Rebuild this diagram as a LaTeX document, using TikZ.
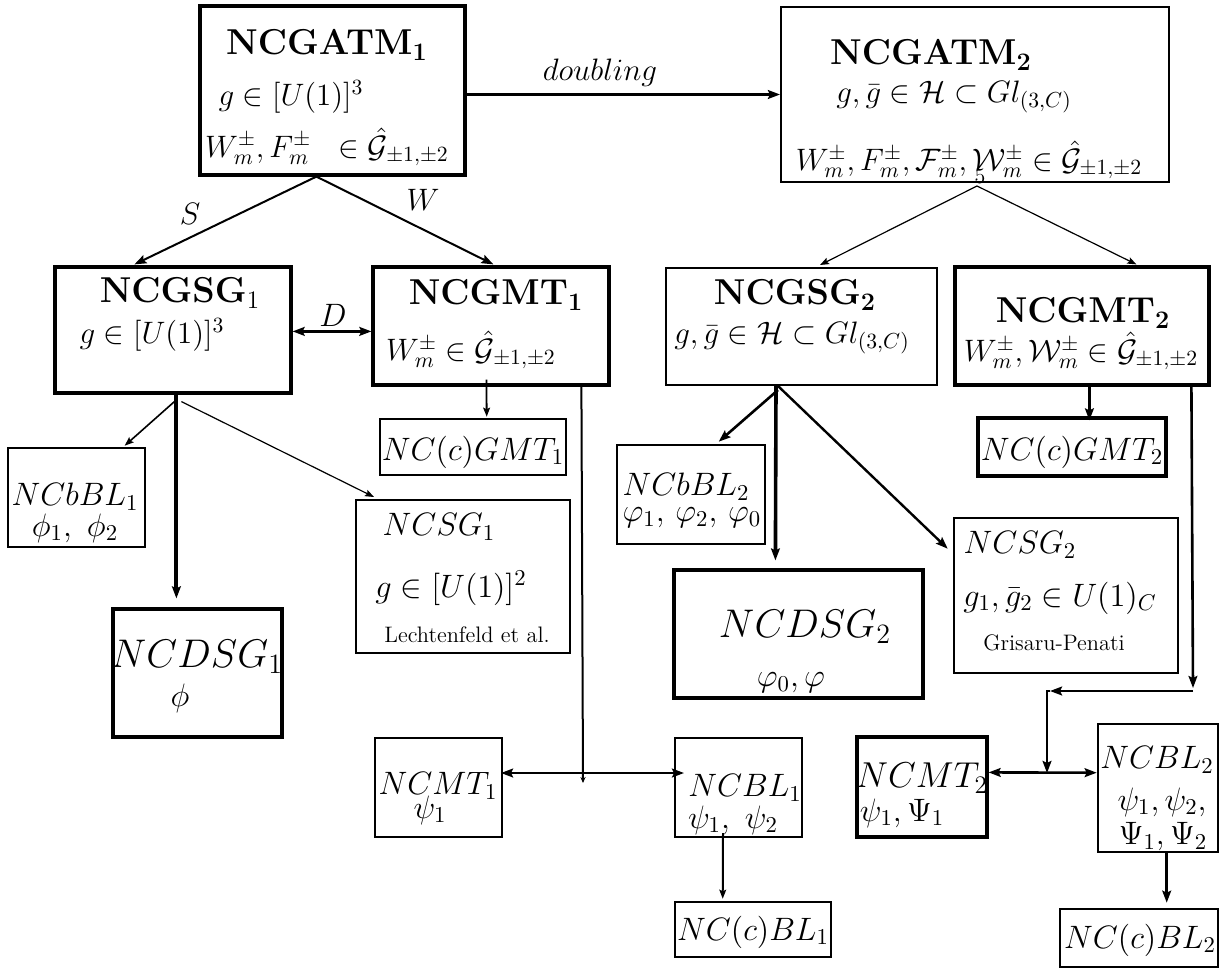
\RequirePackage{fix-cm}
\documentclass[tikz,border=0pt]{standalone}
\usetikzlibrary{arrows.meta,calc}
\newcommand{\myTitle}{\fontsize{18}{20}\selectfont}
\newcommand{\myMath}{\fontsize{15.5}{18}\selectfont}
\newcommand{\myMid}{\fontsize{16.2}{18}\selectfont}
\newcommand{\myBig}{\fontsize{20}{22}\selectfont}
\newcommand{\mySmall}{\fontsize{11.2}{13}\selectfont}
\begin{document}
\begin{tikzpicture}[x=0.5pt,y=-0.5pt,
  bxA/.style={draw, rectangle, inner sep=0pt, line width=1.6pt},
  bxB/.style={draw, rectangle, inner sep=0pt, line width=1.3pt},
  bxC/.style={draw, rectangle, inner sep=0pt, line width=1.0pt},
  t/.style={inner sep=0pt},
  arS/.style={-{Stealth[length=4.5pt,width=3.4pt,inset=0.8pt]}},
  arM/.style={-{Stealth[length=6pt,width=4.4pt,inset=1pt]}},
  arB/.style={{Stealth[length=6pt,width=4.4pt,inset=1pt]}-{Stealth[length=6pt,width=4.4pt,inset=1pt]}}
]
\useasboundingbox (0,0) rectangle (1225,969);

% ---------- boxes ----------
\node[bxA, minimum width=132.5pt, minimum height=84.5pt] (atmA) at (332.5,90.5) {};
\node[bxC, minimum width=194pt, minimum height=87.5pt] (atmB) at (975,94.5) {};
\node[bxA, minimum width=118pt, minimum height=63pt] (sgA) at (173,330) {};
\node[bxA, minimum width=118pt, minimum height=59pt] (mtA) at (491,326) {};
\node[bxC, minimum width=135.5pt, minimum height=58.5pt] (sgB) at (801.5,326.5) {};
\node[bxA, minimum width=127pt, minimum height=59pt] (mtB) at (1082,326) {};
\node[bxB, minimum width=68.5pt, minimum height=49.5pt] (bblA) at (76.5,497.5) {};
\node[bxB, minimum width=93pt, minimum height=28pt] (cgmtA) at (473,447) {};
\node[bxC, minimum width=107pt, minimum height=76.5pt] (ncsgA) at (463,576.5) {};
\node[bxA, minimum width=84.5pt, minimum height=64pt] (dsgA) at (197.5,673) {};
\node[bxB, minimum width=74pt, minimum height=49.5pt] (bblB) at (691,494.5) {};
\node[bxA, minimum width=124.5pt, minimum height=64pt] (dsgB) at (798.5,634) {};
\node[bxB, minimum width=112pt, minimum height=77.5pt] (ncsgB) at (1066,595.5) {};
\node[bxA, minimum width=94pt, minimum height=29pt] (cgmtB) at (1072,447) {};
\node[bxC, minimum width=63.5pt, minimum height=49.5pt] (ncmtA) at (438.5,787.5) {};
\node[bxC, minimum width=63.5pt, minimum height=49.5pt] (nblA) at (738.5,787.5) {};
\node[bxB, minimum width=78pt, minimum height=27.5pt] (cblA) at (753,929.5) {};
\node[bxA, minimum width=65pt, minimum height=50pt] (ncmtB) at (922,787) {};
\node[bxB, minimum width=60pt, minimum height=64pt] (nblB) at (1158,788) {};
\node[bxB, minimum width=79pt, minimum height=29pt] (cblB) at (1139,938) {};

% ---------- texts ----------
\node[t, font=\myTitle] (tAtmA) at (327,45) {$\mathbf{NCGATM_1}$};
\node[t, font=\myMath] (gAtmA) at (291,97) {$g\in[U(1)]^3$};
\node[t, font=\myMath] (wAtmA) at (327,147) {$W^{\pm}_{m}, F^{\pm}_{m}\ \ \in \hat{\mathcal{G}}_{\pm1,\pm2}$};

\node[t, font=\myTitle] (tAtmB) at (931,55) {$\mathbf{NCGATM_2}$};
\node[t, font=\myMath] (gAtmB) at (954,97) {$g,\bar g\in\mathcal{H}\subset Gl_{(3,C)}$};
\node[t, font=\myMath] (wAtmB) at (969,160) {$W^{\pm}_{m}, F^{\pm}_{m}, \mathcal{F}^{\pm}_{m}, \mathcal{W}^{\pm}_{m} \in \hat{\mathcal{G}}_{\pm1,\pm2}$};
\node[t, font=\fontsize{11}{12}\selectfont] (five) at (980,176) {5};

\node[t, font=\myMath] (dbl) at (600,73) {$doubling$};
\node[t, font=\myMath] (lS) at (190,214) {$S$};
\node[t, font=\myMath] (lW) at (423,200) {$W$};
\node[t, font=\myMid] (lD) at (333,315) {$D$};

\node[t, font=\myTitle] (tSgA) at (180,293) {$\mathbf{NCGSG}_1$};
\node[t, font=\myMath] (gSgA) at (152,335) {$g\in[U(1)]^3$};

\node[t, font=\myTitle] (tMtA) at (496,295) {$\mathbf{NCGMT_1}$};
\node[t, font=\myMath] (wMtA) at (471,350) {$W^{\pm}_{m} \in \hat{\mathcal{G}}_{\pm1,\pm2}$};

\node[t, font=\myTitle] (tSgB) at (795,295) {$\mathbf{NCGSG_2}$};
\node[t, font=\myMath] (gSgB) at (792,338) {$g,\bar g\in\mathcal{H}\subset Gl_{(3,C)}$};

\node[t, font=\myTitle] (tMtB) at (1083,313) {$\mathbf{NCGMT_2}$};
\node[t, font=\myMath] (wMtB) at (1081,351) {$W^{\pm}_{m}, \mathcal{W}^{\pm}_{m} \in \hat{\mathcal{G}}_{\pm1,\pm2}$};

\node[t, font=\myMid] (tBblA) at (75,497) {$NCbBL_1$};
\node[t, font=\myMid] (pBblA) at (75,528) {$\phi_1,\ \phi_2$};

\node[t, font=\myMid] (tCgmtA) at (473,452) {$NC(c)GMT_1$};

\node[t, font=\myMid] (tNcsgA) at (439,527) {$NCSG_1$};
\node[t, font=\myMid] (gNcsgA) at (451,588) {$g\in[U(1)]^2$};
\node[t, font=\mySmall] (lNcsgA) at (467,635) {Lechtenfeld et al.};

\node[t, font=\myBig] (tDsgA) at (197,657) {$NCDSG_1$};
\node[t, font=\myMid] (pDsgA) at (180,698) {$\phi$};

\node[t, font=\myMid] (tBblB) at (686,487) {$NCbBL_2$};
\node[t, font=\myMid] (pBblB) at (692,518) {$\varphi_1,\,\varphi_2,\,\varphi_0$};

\node[t, font=\myBig] (tDsgB) at (805,627) {$NCDSG_2$};
\node[t, font=\myMid] (pDsgB) at (791,683) {$\varphi_0,\varphi$};

\node[t, font=\myMid] (tNcsgB) at (1020,545) {$NCSG_2$};
\node[t, font=\myMid] (gNcsgB) at (1060,598) {$g_1,\bar g_2\in U(1)_C$};
\node[t, font=\mySmall] (lNcsgB) at (1054,643) {Grisaru-Penati};

\node[t, font=\myMid] (tCgmtB) at (1072,452) {$NC(c)GMT_2$};

\node[t, font=\myMid] (tNcmtA) at (438,786) {$NCMT_1$};
\node[t, font=\myMid] (pNcmtA) at (430,810) {$\psi_1$};

\node[t, font=\myMid] (tNblA) at (745,788) {$NCBL_1$};
\node[t, font=\myMid] (pNblA) at (733,820) {$\psi_1,\ \psi_2$};

\node[t, font=\myMid] (tCblA) at (753,932) {$NC(c)BL_1$};

\node[t, font=\myTitle] (tNcmtB) at (922,778) {$NCMT_2$};
\node[t, font=\myMid] (pNcmtB) at (902,813) {$\psi_1,\Psi_1$};

\node[t, font=\myMid] (tNblB) at (1157,760) {$NCBL_2$};
\node[t, font=\myMid] (pNblB) at (1162,802) {$\psi_1,\psi_2,$};
\node[t, font=\myMid] (qNblB) at (1163,837) {$\Psi_1,\Psi_2$};

\node[t, font=\myMid] (tCblB) at (1140,940) {$NC(c)BL_2$};

% ---------- connectors ----------
\draw[arM, line width=1.3pt] (atmA.east |- atmB.west) -- (atmB.west);
\draw[arM, line width=1pt] ($(atmA.south west)+(118,0)$) -- ($(sgA.north west)+(81,-1)$);
\draw[arM, line width=1pt] ($(atmA.south west)+(118,0)$) -- ($(mtA.north west)+(122,-1)$);
\draw[arB, line width=1.5pt] ($(sgA.north east)+(0,66)$) -- ($(mtA.north west)+(0,66)$);

\draw[arS, line width=0.6pt] ($(atmB.south west)+(197,3)$) -- ($(sgB.north west)+(155,-2)$);
\draw[arS, line width=0.6pt] ($(atmB.south west)+(197,3)$) -- ($(mtB.north west)+(183,-1)$);

\draw[arS, line width=0.8pt] ($(sgA.south west)+(121,7)$) -- ($(bblA.north west)+(118,-1)$);
\draw[arM, line width=2pt] ($(sgA.south west)+(123,0)$) -- ($(dsgA.north west)+(65,-9)$);
\draw[arS, line width=0.6pt] ($(sgA.south west)+(128,7)$) -- ($(ncsgA.north west)+(19,-2)$);

\draw[arS, line width=0.9pt] ($(mtA.south west)+(115,-7)$) -- ($(cgmtA.north west)+(108,-1)$);
\coordinate (jA) at (583,774);
\draw[-{Stealth[length=3pt,width=2.6pt]}, line width=1pt] ($(mtA.south west)+(210,0)$) -- ($(jA)+(0,9)$);
\draw[arB, line width=1.2pt] ($(ncmtA.north east)+(-2,36)$) -- ($(nblA.north west)+(10,36)$);
\draw[arS, line width=1pt] ($(nblA.south west)+(49,-5)$) -- ($(cblA.north west)+(49,-2)$);

\draw[arM, line width=1.3pt] ($(sgB.south west)+(113,4)$) -- ($(bblB.north west)+(103,-2)$);
\draw[arM, line width=1.8pt] ($(sgB.south west)+(111,0)$) -- ($(dsgB.north west)+(103,-8)$);
\draw[arM, line width=1.2pt] ($(sgB.south west)+(113,0)$) -- ($(ncsgB.north west)+(-5,32)$);

\draw[arM, line width=1.5pt] ($(mtB.south west)+(136,0)$) -- ($(cgmtB.north west)+(113,4)$);
\coordinate (jB1) at (1193,691);
\coordinate (jB2) at (1047,691);
\coordinate (jB3) at (1047,774);
\draw[arM, line width=1.3pt] ($(mtB.south west)+(238,0)$) -- ($(jB1)+(0,-3)$);
\draw[arM, line width=1.3pt] (jB1) -- ($(jB2)+(3,0)$);
\draw[arM, line width=1.3pt] ($(jB2)+(3,0)$) -| ($(jB3)+(0,-1)$);
\draw[arB, line width=1.3pt] ($(ncmtB.north east)+(0,37)$) -- ($(nblB.north west)+(0,50)$);
\draw[arM, line width=1.6pt] ($(nblB.south west)+(70,0)$) -- ($(cblB.north west)+(108,-5)$);
\end{tikzpicture}
\end{document}
